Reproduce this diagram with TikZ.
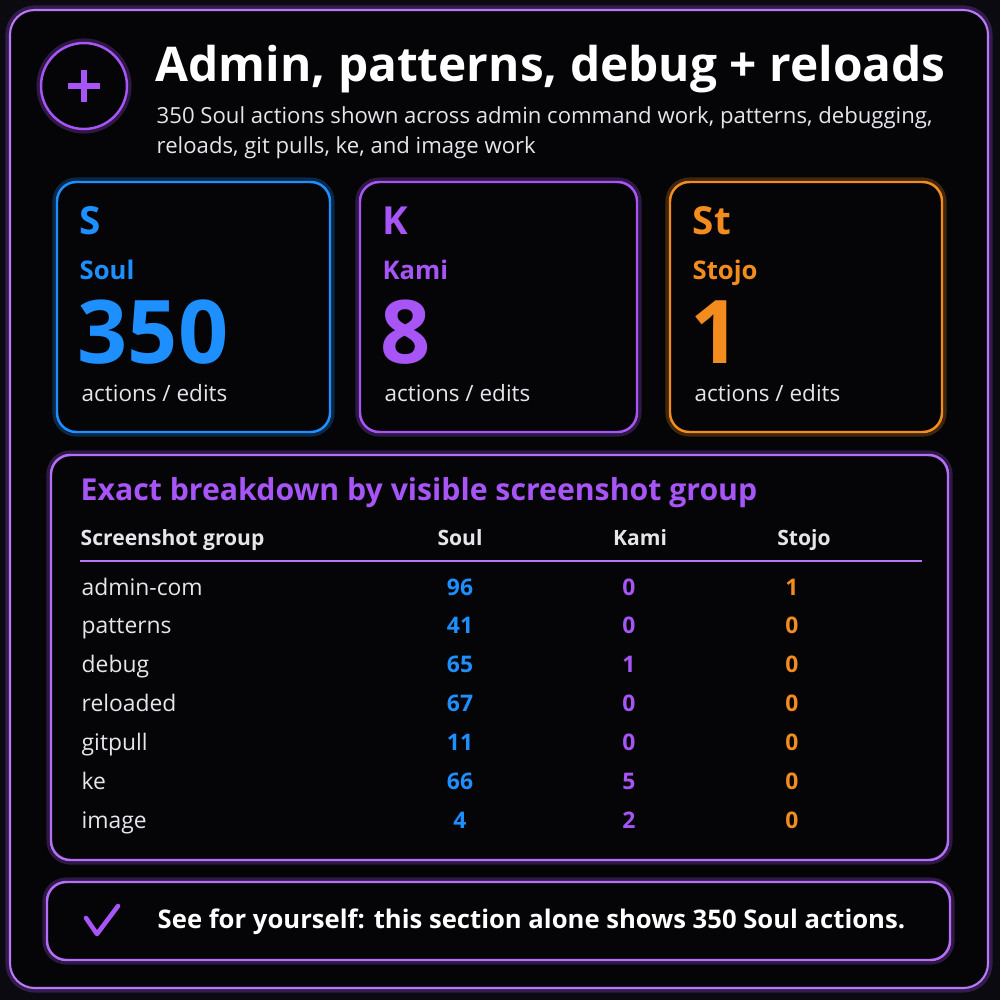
\documentclass[tikz,border=0pt]{standalone}
\usepackage{fontspec}
\setmainfont{Open Sans}
\definecolor{bgdark}{HTML}{0B0A10}
\definecolor{panel}{HTML}{050508}
\definecolor{soulblue}{HTML}{1E8FFF}
\definecolor{kamipurple}{HTML}{A855F7}
\definecolor{stojoorange}{HTML}{F28C1E}
\definecolor{softtext}{HTML}{E6E6EA}
\tikzset{
  box/.style={draw=#1, line width=0.7pt, rounded corners=5.5pt, fill=panel},
  glow/.style={draw=#1, line width=2.6pt, rounded corners=5.5pt, opacity=0.25},
  cardletter/.style={anchor=base west, font=\bfseries\fontsize{11}{11}\selectfont},
  cardname/.style={anchor=base west, font=\bfseries\fontsize{7.3}{7.3}\selectfont},
  cardnum/.style={anchor=base west, font=\bfseries\fontsize{25}{25}\selectfont},
  cardsub/.style={anchor=base west, text=softtext, font=\fontsize{6.4}{6.4}\selectfont},
  head/.style={anchor=base, text=softtext, font=\bfseries\fontsize{6}{6}\selectfont},
  cell/.style={anchor=base, font=\bfseries\fontsize{6.5}{6.5}\selectfont},
  rowname/.style={anchor=base west, text=softtext, font=\fontsize{6.5}{6.5}\selectfont},
}
\begin{document}
\begin{tikzpicture}[x=0.1mm,y=-0.1mm]
\fill[bgdark] (0,0) rectangle (1000,1000);
\useasboundingbox (0,0) rectangle (1000,1000);
% outer frame
\draw[glow=kamipurple, rounded corners=7pt] (10,10) rectangle (988,988);
\draw[box=kamipurple!80, rounded corners=7pt, line width=0.6pt] (10,10) rectangle (988,988);
% header
\draw[kamipurple, line width=2.6pt, opacity=0.25] (84,86) circle (43);
\draw[kamipurple, line width=0.7pt, fill=panel] (84,86) circle (43);
\draw[kamipurple, line width=1.6pt] (68,86) -- (100,86) (84,70) -- (84,102);
\node (title) [anchor=base west, text=white, font=\bfseries\fontsize{13.6}{13.6}\selectfont, inner sep=0pt] at (155,81) {Admin, patterns, debug + reloads};
\node (subtitle) [anchor=north west, text=softtext, align=left, font=\fontsize{6.3}{8.6}\selectfont, inner sep=0pt] at (156,106) {350 Soul actions shown across admin command work, patterns, debugging,\\reloads, git pulls, ke, and image work};
% cards
\foreach \x/\w/\col/\ltr/\who/\num in {57/273/soulblue/S/Soul/350, 360/277/kamipurple/K/Kami/8, 670/272/stojoorange/St/Stojo/1}{
  \draw[glow=\col] (\x,182) rectangle ++(\w,250);
  \draw[box=\col] (\x,182) rectangle ++(\w,250);
  \node[cardletter, text=\col, inner sep=0pt] at (\x+22,234) {\ltr};
  \node[cardname, text=\col, inner sep=0pt] at (\x+22,279) {\who};
  \node[cardnum, text=\col, inner sep=0pt] at (\x+20,363) {\num};
  \node[cardsub, inner sep=0pt] at (\x+24,401) {actions / edits};
}
% table
\draw[glow=kamipurple] (51,455) rectangle (948,860);
\draw[box=kamipurple!85] (51,455) rectangle (948,860);
\node (tabtitle) [anchor=base west, text=kamipurple, font=\bfseries\fontsize{8.6}{8.6}\selectfont, inner sep=0pt] at (80,500) {Exact breakdown by visible screenshot group};
\node[head, anchor=base west, inner sep=0pt] (hgroup) at (80,545) {Screenshot group};
\node[head] (hsoul) at (460,545) {Soul};
\node[head] (hkami) at (640,545) {Kami};
\node[head] (hstojo) at (804,545) {Stojo};
\draw[kamipurple!80, line width=0.4pt] (80,561) -- (922,561);
\foreach \name/\s/\k/\t [count=\i] in {admin-com/96/0/1, patterns/41/0/0, debug/65/1/0, reloaded/67/0/0, gitpull/11/0/0, ke/66/5/0, image/4/2/0}{
  \pgfmathsetmacro{\yy}{595+(\i-1)*38.9}
  \node[rowname, inner sep=0pt] at (81,\yy) {\name};
  \node[cell, text=soulblue] at (460,\yy) {\s};
  \node[cell, text=kamipurple] at (629,\yy) {\k};
  \node[cell, text=stojoorange] at (792,\yy) {\t};
}
% footer
\draw[glow=kamipurple] (47,882) rectangle (950,960);
\draw[box=kamipurple!85] (47,882) rectangle (950,960);
\draw[kamipurple, line width=1.3pt, line cap=round, line join=round] (86,918) -- (97,934) -- (118,906);
\node (footer) [anchor=base west, text=white, font=\bfseries\fontsize{7.3}{7.3}\selectfont, inner sep=0pt] at (157,928) {See for yourself: this section alone shows 350 Soul actions.};
\end{tikzpicture}
\end{document}
